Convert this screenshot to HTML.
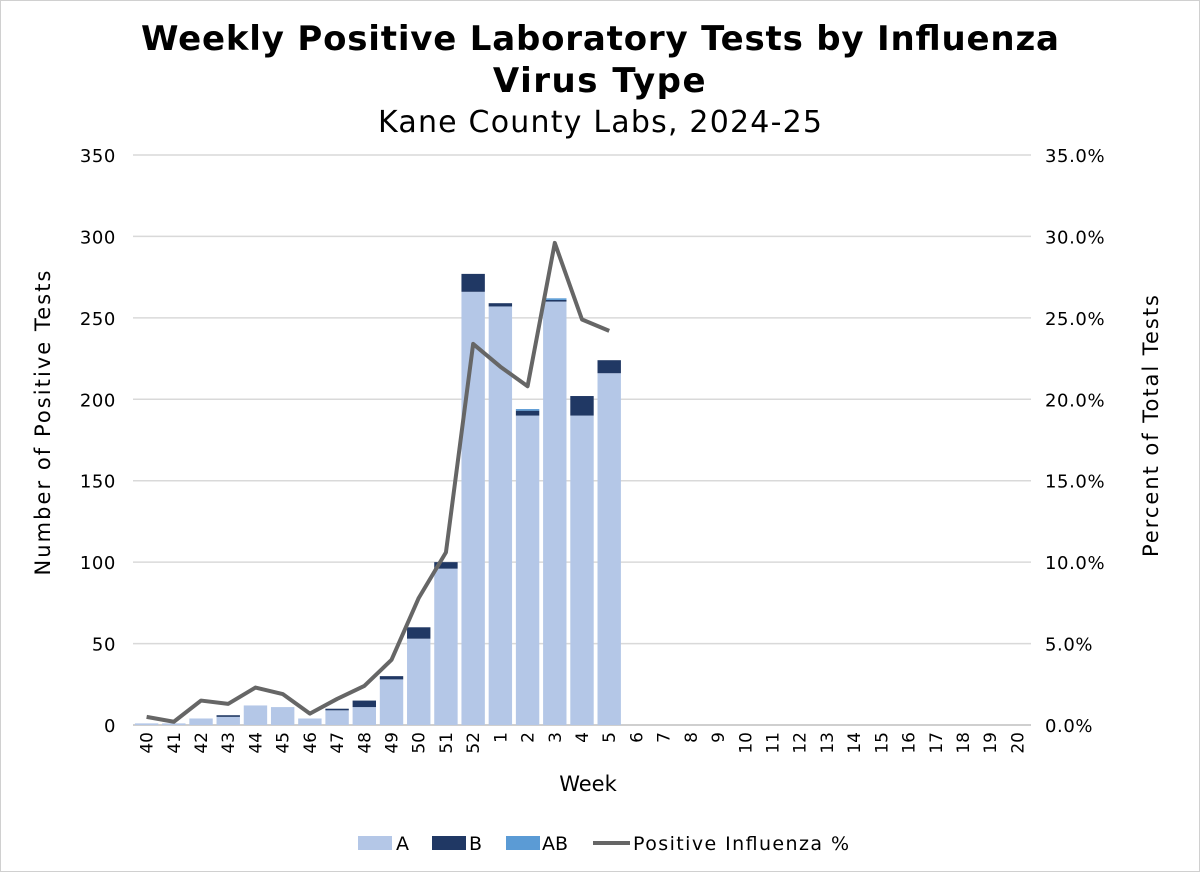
<!DOCTYPE html>
<html><head><meta charset="utf-8"><style>
body{margin:0;background:#fff;}
#wrap{position:relative;width:1198px;height:870px;border:1px solid #d0d0d0;font-family:"DejaVu Sans","Liberation Sans",sans-serif;}
svg text{font-family:"DejaVu Sans","Liberation Sans",sans-serif;}
</style></head><body>
<div id="wrap">
<svg id="chart" width="1198" height="870">
<text x="599" y="49" text-anchor="middle" font-size="34" font-weight="bold" fill="#000" textLength="918">Weekly Positive Laboratory Tests by Influenza</text>
<text x="599" y="91" text-anchor="middle" font-size="34" font-weight="bold" fill="#000" letter-spacing="1.5">Virus Type</text>
<text x="599" y="131" text-anchor="middle" font-size="30" fill="#000" textLength="444">Kane County Labs, 2024-25</text>
<text transform="translate(49,422) rotate(-90)" text-anchor="middle" font-size="21" textLength="305">Number of Positive Tests</text>
<text transform="translate(1157,425) rotate(-90)" text-anchor="middle" font-size="21" textLength="262">Percent of Total Tests</text>
<text x="587" y="790" text-anchor="middle" font-size="21">Week</text>
<g id="grid"></g><g id="bars"></g><g id="line"></g><g id="ticks"></g>
<g>
<rect x="357" y="835" width="34" height="14" fill="#b4c7e7"/>
<text x="395" y="849" font-size="19">A</text>
<rect x="431" y="835" width="34" height="14" fill="#203864"/>
<text x="468" y="849" font-size="19">B</text>
<rect x="505" y="835" width="34" height="14" fill="#5b9bd5"/>
<text x="541" y="849" font-size="19">AB</text>
<line x1="592" y1="842" x2="629" y2="842" stroke="#666" stroke-width="4"/>
<text x="632" y="849" font-size="19" textLength="216">Positive Influenza %</text>
</g>
</svg></div>
<script>
const weeks=["40","41","42","43","44","45","46","47","48","49","50","51","52","1","2","3","4","5","6","7","8","9","10","11","12","13","14","15","16","17","18","19","20"];
const seriesA=[1,1,4,5,12,11,4,9,11,28,53,96,266,257,190,260,190,216];
const seriesB=[0,0,0,1,0,0,0,1,4,2,7,4,11,2,3,1,12,8];
const seriesAB=[0,0,0,0,0,0,0,0,0,0,0,0,0,0,1,1,0,0];
const pct=[0.5,0.2,1.5,1.3,2.3,1.9,0.7,1.6,2.4,4.0,7.8,10.6,23.4,22.0,20.8,29.6,24.9,24.2];
const leftTicks=[0,50,100,150,200,250,300,350];
const rightTicks=["0.0%","5.0%","10.0%","15.0%","20.0%","25.0%","30.0%","35.0%"];
const NS="http://www.w3.org/2000/svg";
const X0=132,X1=1030,Y0=724,Y1=154;
const bw=(X1-X0)/weeks.length;
const y=v=>Y0-v/350*(Y0-Y1);
const yp=v=>Y0-v/35*(Y0-Y1);
const xc=i=>X0+bw*(i+0.5);
function mk(t,a,p){const e=document.createElementNS(NS,t);for(const k in a)e.setAttribute(k,a[k]);document.getElementById(p).appendChild(e);return e;}
leftTicks.forEach((t,i)=>{
 const g=mk('line',{x1:X0,x2:X1,y1:y(t),y2:y(t),stroke:i==0?'#bfbfbf':'#d9d9d9','stroke-width':1.5},'grid');
 
 
 const l=mk('text',{x:115,y:y(t)+7,'text-anchor':'end','font-size':18,'letter-spacing':0.6},'ticks');l.textContent=t;
 
 
 const r=mk('text',{x:1044,y:y(t)+7,'font-size':18,'letter-spacing':0.6},'ticks');r.textContent=rightTicks[i];
 
 
});
weeks.forEach((w,i)=>{
 const t=mk('text',{transform:`translate(${xc(i)+6},${731}) rotate(-90)`,'text-anchor':'end','font-size':17},'ticks');t.textContent=w;
 
 
});
seriesA.forEach((a,i)=>{
 const x=xc(i)-bw*0.43,w=bw*0.86;let base=0;
 [[a,'#b4c7e7','bar-a'],[seriesB[i],'#203864','bar-b'],[seriesAB[i],'#5b9bd5','bar-ab']].forEach(([v,c,n])=>{
  if(v<=0)return;
  const r=mk('rect',{x:x,width:w,y:y(base+v),height:y(base)-y(base+v),fill:c},'bars');
  
  
  base+=v;
 });
});
const pl=mk('polyline',{points:pct.map((p,i)=>xc(i)+','+yp(p)).join(' '),fill:'none',stroke:'#666','stroke-width':4,'stroke-linejoin':'round'},'line');


</script>
</body></html>
